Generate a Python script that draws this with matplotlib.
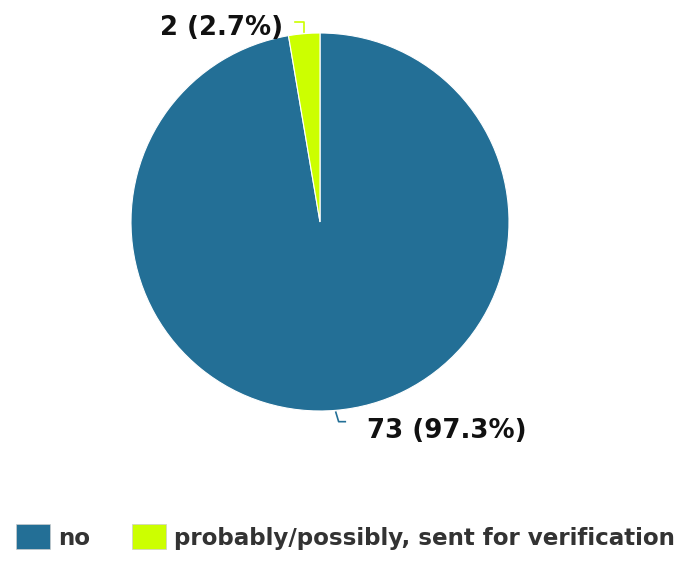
import numpy as np
import matplotlib.pyplot as plt

labels = ['no', 'probably/possibly, sent for verification']
counts = [73, 2]
colors = ['#236f96', '#ccff00']

total = sum(counts)
pct = [100 * c / total for c in counts]

fig = plt.figure(figsize=(6.9, 5.63), dpi=100)
ax = fig.add_axes([131 / 690, 1 - 411 / 563, 378 / 690, 378 / 563])

wedges, _ = ax.pie(counts, colors=colors, startangle=90, counterclock=False,
                   radius=1, wedgeprops=dict(edgecolor='white', linewidth=0.8))
ax.set_xlim(-1, 1)
ax.set_ylim(-1, 1)
ax.set_aspect('equal')
ax.axis('off')

# value labels with small bent leader lines
label_pos = [(0.25, -1.105, 'left'), (-0.195, 1.025, 'right')]
for w, c, p, col, (tx, ty, ha) in zip(wedges, counts, pct, colors, label_pos):
    ang = np.deg2rad((w.theta1 + w.theta2) / 2)
    ex, ey = np.cos(ang), np.sin(ang)
    if ey < 0:
        xs = [ex, ex + 0.015, ex + 0.05]
        ys = [ey - 0.01, ey - 0.06, ey - 0.06]
    else:
        xs = [ex, ex, ex - 0.05]
        ys = [ey + 0.01, ey + 0.06, ey + 0.06]
    ax.plot(xs, ys, color=col, lw=1.2, clip_on=False)
    ax.text(tx, ty, f'{c} ({p:.1f}%)', ha=ha, va='center', fontsize=18.7,
            fontweight='bold', color='#111111', clip_on=False)

handles = [plt.Rectangle((0, 0), 1, 1, facecolor=col, edgecolor='#cccccc', lw=0.5)
           for col in colors]
fig.legend(handles, labels, loc='center left',
           bbox_to_anchor=(16 / 690, 1 - 537 / 563),
           ncol=2, frameon=False, borderpad=0, borderaxespad=0,
           handlelength=1.48, handleheight=1.3,
           handletextpad=0.35, columnspacing=1.8,
           prop=dict(size=16.6, weight='bold'), labelcolor='#333333')

fig.savefig('out.png', dpi=100)
